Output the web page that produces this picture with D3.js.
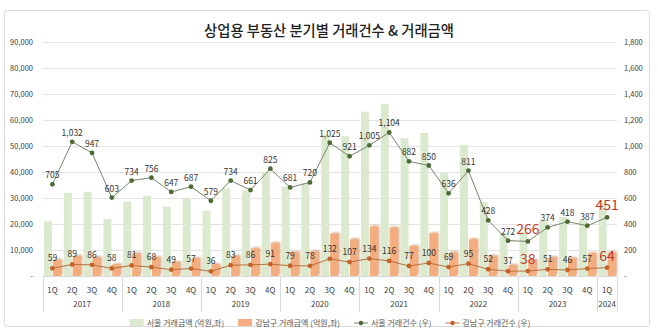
<!DOCTYPE html>
<html>
<head>
<meta charset="utf-8">
<script src="https://cdn.jsdelivr.net/npm/d3@7"></script>
<style>
  body { margin: 0; background: #fff; }
  svg { font-family: "Noto Sans CJK KR", "Noto Sans", sans-serif; }
</style>
</head>
<body>
<svg id="chart" width="658" height="330"></svg>
<script>
// quarterly data, 2017 1Q ~ 2024 1Q
let years = ['2017','2018','2019','2020','2021','2022','2023','2024'];
let quarters = ['1Q','2Q','3Q','4Q','1Q','2Q','3Q','4Q','1Q','2Q','3Q','4Q','1Q','2Q','3Q','4Q',
                '1Q','2Q','3Q','4Q','1Q','2Q','3Q','4Q','1Q','2Q','3Q','4Q','1Q'];
let quarterYear = [0,0,0,0,1,1,1,1,2,2,2,2,3,3,3,3,4,4,4,4,5,5,5,5,6,6,6,6,7];

// 거래금액 (억원, left axis)
let seoulAmount = [21000,32000,32400,21900,28600,30900,26700,29900,25100,33700,33000,40000,
                   34400,35700,54200,53800,63200,66200,53000,55000,39600,50400,28500,16500,
                   17000,21500,22700,21500,28000];
let gangnamAmount = [6150,7700,7200,4500,8700,7200,5300,6800,4500,7700,10600,12600,
                     9100,9400,16300,14100,19000,18600,11500,16400,9000,14100,7700,4200,
                     6150,7200,6800,8700,9000];

// 거래건수 (right axis)
let seoulCount = [705,1032,947,603,734,756,647,687,579,734,661,825,681,720,1025,921,
                  1005,1104,882,850,636,811,428,272,266,374,418,387,451];
let gangnamCount = [59,89,86,58,81,68,49,57,36,83,86,91,79,78,132,107,
                    134,116,77,100,69,95,52,37,38,51,46,57,64];

let leftTicks = [0,10000,20000,30000,40000,50000,60000,70000,80000,90000];
let rightTicks = [0,200,400,600,800,1000,1200,1400,1600,1800];
let highlighted = [24, 28]; // 2023 1Q, 2024 1Q labels in red

let svg = d3.select("#chart");

var x0 = 42.5, x1 = 617, yTop = 42, yBase = 276;
let idx = d3.range(quarters.length);

let x = d3.scaleBand().domain(idx).range([x0, x1]).padding(0);
let xs = d3.scaleBand().domain(['seoul','gangnam']).range([1.5, x.bandwidth()-1.5]).paddingInner(0.1);
let yL = d3.scaleLinear().domain([0, 90000]).range([yBase, yTop]);
let yR = d3.scaleLinear().domain([0, 1800]).range([yBase, yTop]);
let cx = i => x(i) + x.bandwidth()/2;

// frame
svg.append("rect").attr("x",4.5).attr("y",10.5).attr("width",645).attr("height",316)
   .attr("rx",3).attr("fill","#fff").attr("stroke","#dcdcdc");

svg.append("text").attr("x",329).attr("y",36).attr("text-anchor","middle")
   .attr("font-size",14.3).attr("font-weight",500).attr("fill","#222")
   .text("상업용 부동산 분기별 거래건수 & 거래금액");

let defs = svg.append("defs");
let f = defs.append("filter").attr("id","barShadow")
            .attr("x","-30%").attr("y","-30%").attr("width","160%").attr("height","160%");
f.append("feDropShadow").attr("dx",1.5).attr("dy",-1).attr("stdDeviation",0.8)
 .attr("flood-color","#c77d48").attr("flood-opacity",0.7);

// gridlines + axes
let fmt = d3.format(",");
svg.append("g").selectAll("line").data(leftTicks.slice(1)).enter().append("line")
   .attr("x1",x0).attr("x2",x1).attr("y1",d => yL(d)+0.5).attr("y2",d => yL(d)+0.5)
   .attr("stroke","#e3e3e3");

let leftAxis = d3.axisLeft(yL).tickValues(leftTicks).tickSize(0).tickPadding(0)
                 .tickFormat(d => d === 0 ? "-" : fmt(d));
svg.append("g").attr("transform","translate(33,0)").call(leftAxis)
   .call(g => g.select(".domain").remove())
   .selectAll("text").attr("font-size",7.5).attr("fill","#404040")
   .attr("font-family","'Noto Sans CJK KR', sans-serif");

let rightAxis = d3.axisRight(yR).tickValues(rightTicks).tickSize(0).tickPadding(0)
                  .tickFormat(d => d === 0 ? "-" : fmt(d));
svg.append("g").attr("transform","translate(624,0)").call(rightAxis)
   .call(g => g.select(".domain").remove())
   .selectAll("text").attr("font-size",7.5).attr("fill","#404040")
   .attr("font-family","'Noto Sans CJK KR', sans-serif");

// bars
svg.append("g").selectAll("rect").data(seoulAmount).enter().append("rect")
   .attr("x",(d,i) => x(i) + xs('seoul')).attr("width",xs.bandwidth())
   .attr("y",d => yL(d)).attr("height",d => yBase - yL(d))
   .attr("fill","#dbeacf");

svg.append("g").attr("filter","url(#barShadow)").selectAll("rect").data(gangnamAmount).enter().append("rect")
   .attr("x",(d,i) => x(i) + xs('gangnam')).attr("width",xs.bandwidth())
   .attr("y",d => yL(d)).attr("height",d => yBase - yL(d))
   .attr("fill","#f4ad7e");

// baseline
svg.append("line").attr("x1",x0).attr("x2",x1).attr("y1",yBase+0.5).attr("y2",yBase+0.5)
   .attr("stroke","#d9d9d9");

// category axis: quarters + year groups
svg.append("g").selectAll("text").data(quarters).enter().append("text")
   .attr("x",(d,i) => cx(i)).attr("y",293).attr("text-anchor","middle")
   .attr("font-size",8).attr("fill","#404040").text(d => d);

let yearSpan = years.map((y,k) => {
  let members = idx.filter(i => quarterYear[i] === k);
  return {label: y, start: x(members[0]), end: x(members[members.length-1]) + x.bandwidth()};
});
svg.append("g").selectAll("text").data(yearSpan).enter().append("text")
   .attr("x",d => (d.start + d.end)/2).attr("y",307).attr("text-anchor","middle")
   .attr("font-size",8).attr("fill","#404040").text(d => d.label);
let bounds = [yearSpan[0].start].concat(yearSpan.map(d => d.end));
svg.append("g").selectAll("line").data(bounds).enter().append("line")
   .attr("x1",d => Math.round(d)+0.5).attr("x2",d => Math.round(d)+0.5)
   .attr("y1",yBase).attr("y2",312).attr("stroke","#d9d9d9");

// count lines
function drawLine(values, lineColor, dotColor, lift) {
  let line = d3.line().x((d,i) => cx(i)).y(d => yR(d));
  svg.append("path").datum(values).attr("d",line)
     .attr("fill","none").attr("stroke",lineColor).attr("stroke-width",1);
  svg.append("g").selectAll("circle").data(values).enter().append("circle")
     .attr("cx",(d,i) => cx(i)).attr("cy",d => yR(d)).attr("r",2.4)
     .attr("fill",dotColor);
  svg.append("g").selectAll("text").data(values).enter().append("text")
     .attr("x",(d,i) => cx(i))
     .attr("y",(d,i) => yR(d) - (highlighted.includes(i) ? 7 : lift))
     .attr("text-anchor","middle")
     .attr("font-size",(d,i) => highlighted.includes(i) ? 14 : 8.5)
     .attr("fill",(d,i) => highlighted.includes(i) ? "#c0392b" : "#333")
     .text(d => fmt(d));
}
drawLine(seoulCount, "#77866a", "#4b6a34", 6);
drawLine(gangnamCount, "#b8733e", "#c4622a", 7);

// legend
let legend = svg.append("g").attr("id","legend");
let items = [
  {label:"서울 거래금액 (억원,좌)", kind:"bar", color:"#dbeacf"},
  {label:"강남구 거래금액 (억원,좌)", kind:"bar", color:"#f4ad7e"},
  {label:"서울 거래건수 (우)", kind:"line", color:"#77866a", dot:"#4b6a34"},
  {label:"강남구 거래건수 (우)", kind:"line", color:"#b8733e", dot:"#c4622a"}
];
var lx = 0, ly = 323;
items.forEach(function(d) {
  let g = legend.append("g").attr("transform","translate("+lx+",0)");
  if (d.kind === "bar") {
    g.append("rect").attr("x",0).attr("y",ly-4).attr("width",14).attr("height",7).attr("fill",d.color);
  } else {
    g.append("line").attr("x1",0).attr("x2",14).attr("y1",ly).attr("y2",ly).attr("stroke",d.color);
    g.append("circle").attr("cx",7).attr("cy",ly).attr("r",2.2).attr("fill",d.dot);
  }
  let t = g.append("text").attr("x",17).attr("y",ly+3).attr("font-size",8)
           .attr("fill","#555").text(d.label);
  lx += 17 + t.node().getComputedTextLength() + 14;
});
legend.attr("transform","translate("+(330 - (lx-14)/2)+",0)");
</script>
</body>
</html>
